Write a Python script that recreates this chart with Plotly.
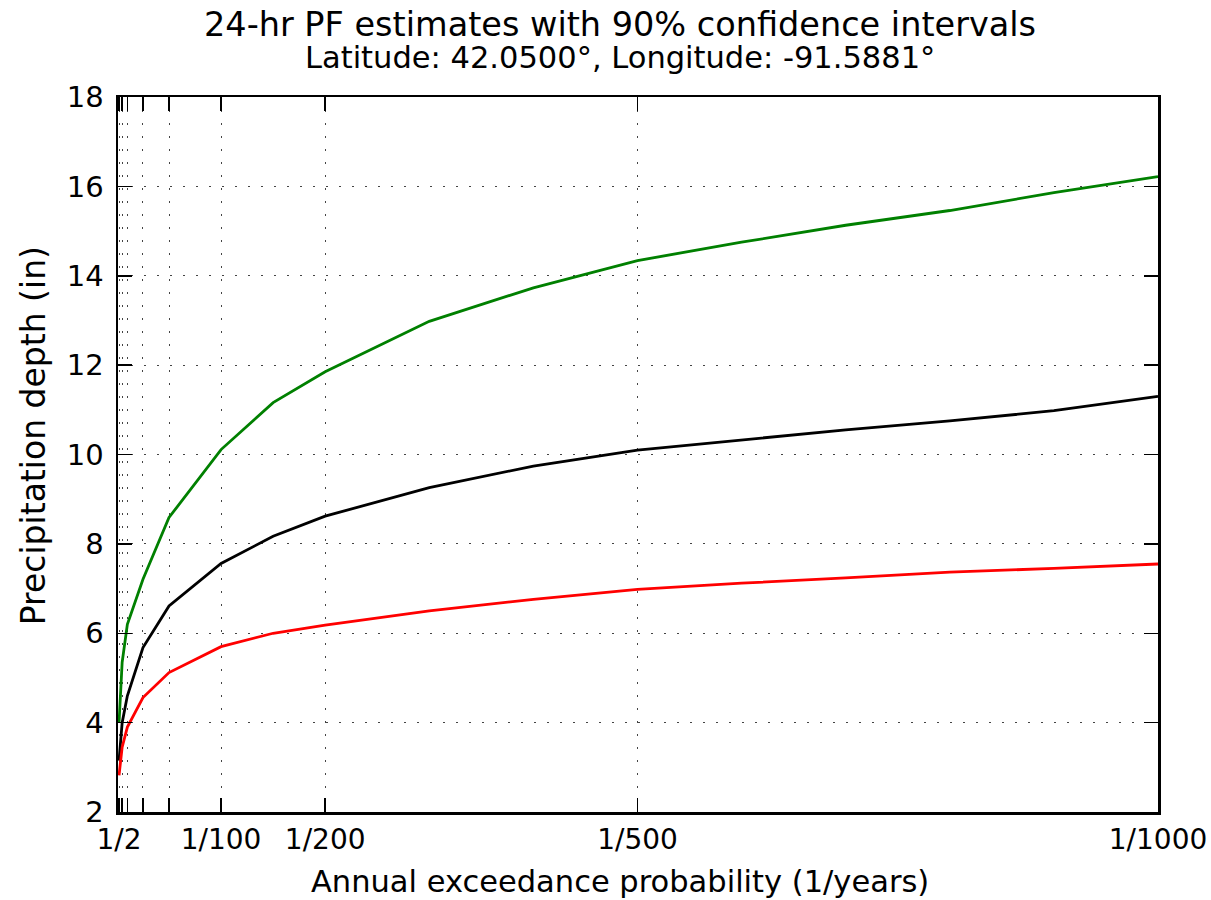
import plotly.graph_objects as go

# Return periods (years) -> plotted as annual exceedance probability 1/T
ari = [2, 5, 10, 25, 50, 100, 150, 200, 300, 400, 500, 600, 700, 800, 900, 1000]
upper = [4.0, 5.35, 6.2, 7.21, 8.59, 10.11, 11.16, 11.85, 12.98, 13.73, 14.34, 14.75, 15.13, 15.46, 15.86, 16.22]
estimate = [3.15, 4.0, 4.6, 5.68, 6.61, 7.56, 8.17, 8.62, 9.26, 9.74, 10.10, 10.33, 10.55, 10.75, 10.98, 11.30]
lower = [2.82, 3.45, 3.9, 4.56, 5.12, 5.70, 6.0, 6.18, 6.50, 6.76, 6.98, 7.12, 7.24, 7.37, 7.45, 7.55]

tick_vals = [2, 5, 10, 25, 50, 100, 200, 500, 1000]
tick_text = ["1/2", "", "", "", "", "1/100", "1/200", "1/500", "1/1000"]

title = "24-hr PF estimates with 90% confidence intervals"
subtitle = "Latitude: 42.0500°, Longitude: -91.5881°"
x_title = "Annual exceedance probability (1/years)"
y_title = "Precipitation depth (in)"

W, H = 1211, 900
L, R, T, B = 117.5, 1158, 97.2, 812.5

def px(xs):
    return (xs - L) / (R - L)

def py(ys):
    return (B - ys) / (B - T)

FONT = "DejaVu Sans"

fig = go.Figure()
fig.add_trace(go.Scatter(x=ari, y=upper, mode="lines", line=dict(color="#008000", width=2.8), showlegend=False))
fig.add_trace(go.Scatter(x=ari, y=estimate, mode="lines", line=dict(color="#000000", width=2.8), showlegend=False))
fig.add_trace(go.Scatter(x=ari, y=lower, mode="lines", line=dict(color="#ff0000", width=2.8), showlegend=False))

grid = dict(showgrid=True, gridcolor="#444444", gridwidth=1, griddash="2px,11px")
fig.update_xaxes(range=[1, 1000], tickvals=tick_vals, ticktext=tick_text,
                 ticks="inside", ticklen=14, tickwidth=1.5, tickcolor="black",
                 showline=True, linewidth=2.5, linecolor="black", mirror="ticks",
                 zeroline=False, tickfont=dict(family=FONT, size=28, color="black"),
                 ticklabelstandoff=1, **grid)
fig.update_yaxes(range=[2, 18], dtick=2, tick0=2,
                 ticks="inside", ticklen=14, tickwidth=1.5, tickcolor="black",
                 showline=True, linewidth=2.5, linecolor="black", mirror="ticks",
                 zeroline=False, tickfont=dict(family=FONT, size=29, color="black"),
                 ticklabelstandoff=6, **grid)

ann = [
    dict(text=title, x=px(620), y=py(25), font=dict(size=33.5)),
    dict(text=subtitle, x=px(620), y=py(58), font=dict(size=30.5)),
    dict(text=x_title, x=px(620), y=py(882), font=dict(size=30.5)),
    dict(text=y_title, x=px(33), y=py(436), font=dict(size=33), textangle=-90),
]
for a in ann:
    a.update(xref="paper", yref="paper", showarrow=False, xanchor="center", yanchor="middle")
    a["font"].update(family=FONT, color="black")

fig.update_layout(width=W, height=H, margin=dict(l=L, r=W - R, t=T, b=H - B, autoexpand=False),
                  paper_bgcolor="white", plot_bgcolor="white", annotations=ann,
                  font=dict(family=FONT, color="black"))

fig.write_html("out.html", config={"displayModeBar": False, "staticPlot": True},
               post_script="document.body.style.margin='0px';document.body.style.overflow='hidden';")
